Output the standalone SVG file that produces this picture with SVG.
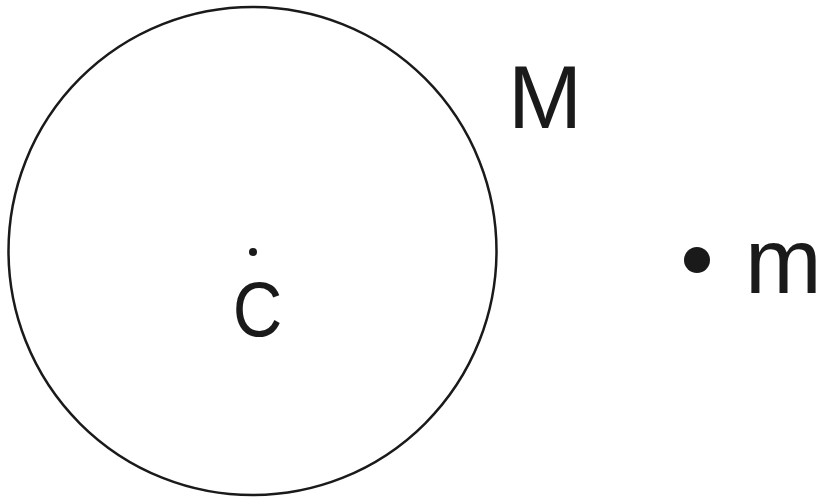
<svg xmlns="http://www.w3.org/2000/svg" width="817" height="498" viewBox="0 0 817 498">
<style>
.lbl{font-family:"Liberation Sans",Arial,sans-serif;fill:#1a1a1a}
</style>
<rect width="817" height="498" fill="#fff"/>
<g id="bigM">
<circle cx="252.5" cy="251" r="244" fill="none" stroke="#1a1a1a" stroke-width="2.5"/>
<text class="lbl" x="545" y="128" font-size="89" text-anchor="middle">M</text>
</g>
<g id="centerC">
<circle cx="253" cy="252" r="4" fill="#1a1a1a"/>
<text class="lbl" transform="translate(257.5,336) scale(0.88,1)" font-size="78" text-anchor="middle">C</text>
</g>
<g id="smallm">
<circle cx="697" cy="260" r="13" fill="#1a1a1a"/>
<text class="lbl" x="745" y="293" font-size="92">m</text>
</g>
<g id="connectors"/>
</svg>
